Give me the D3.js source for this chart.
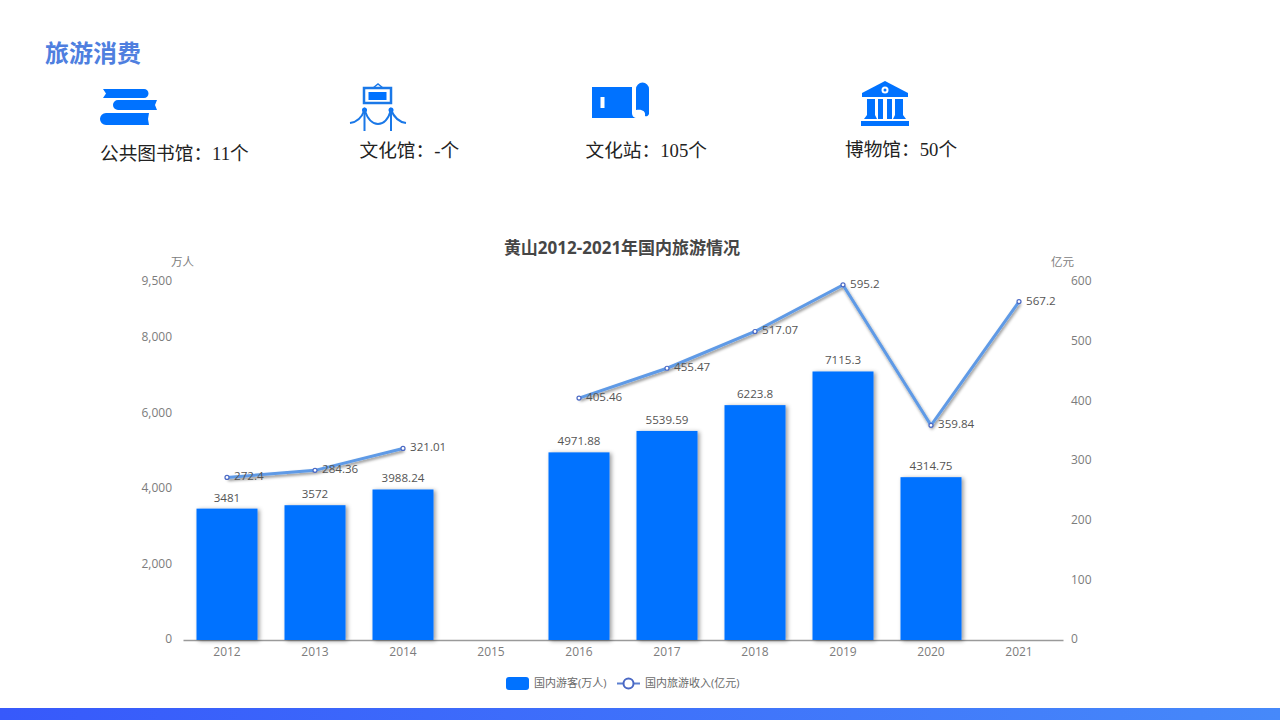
<!DOCTYPE html>
<html>
<head>
<meta charset="utf-8">
<script src="https://cdn.jsdelivr.net/npm/d3@7"></script>
<style>
	body { margin: 0; background: #fff; }
	svg { display: block; }
	text { font-family: "Open Sans", "Noto Sans CJK SC", sans-serif; }
	.head text { font-family: "Liberation Serif", "Noto Sans CJK SC", serif; }
	.axis text { fill: #7c7c7c; font-size: 12px; }
</style>
</head>
<body>
<svg id="chart" width="1280" height="720"></svg>
<script>
const years = ["2012", "2013", "2014", "2015", "2016", "2017", "2018", "2019", "2020", "2021"];
const visitors = [3481, 3572, 3988.24, null, 4971.88, 5539.59, 6223.8, 7115.3, 4314.75, null];
const revenue = [272.4, 284.36, 321.01, null, 405.46, 455.47, 517.07, 595.2, 359.84, 567.2];
const leftTicks = [0, 2000, 4000, 6000, 8000, 9500];
const rightTicks = [0, 100, 200, 300, 400, 500, 600];
const stats = [
	{ label: "公共图书馆：11个", x: 100, y: 160 },
	{ label: "文化馆：-个", x: 359.5, y: 157 },
	{ label: "文化站：105个", x: 585.5, y: 157 },
	{ label: "博物馆：50个", x: 845, y: 156 }
];

const blue = "#0072ff";
const lineBlue = "#5f9ae6";
const svg = d3.select("#chart");
const defs = svg.append("defs");

// bottom band
let grad = defs.append("linearGradient").attr("id", "band");
grad.append("stop").attr("offset", "0").attr("stop-color", "#3759fb");
grad.append("stop").attr("offset", "1").attr("stop-color", "#4689fa");
svg.append("rect").attr("x", 0).attr("y", 708).attr("width", 1280).attr("height", 12)
	.attr("fill", "url(#band)");

// soft shadows on the bars and the line
function addShadow(id, dx, dy, blur, opacity) {
	defs.append("filter").attr("id", id)
		.attr("x", "-10%").attr("y", "-10%").attr("width", "125%").attr("height", "125%")
		.append("feDropShadow")
		.attr("dx", dx).attr("dy", dy).attr("stdDeviation", blur)
		.attr("flood-color", "#000").attr("flood-opacity", opacity);
}
addShadow("barShadow", 2, 1, 2, 0.4);
addShadow("lineShadow", 1, 2, 1.5, 0.45);

// header
let head = svg.append("g").attr("class", "head");
head.append("text").attr("x", 45).attr("y", 62).text("旅游消费")
	.attr("font-size", 24).attr("font-weight", "bold").attr("fill", "#4f7fdf");
head.selectAll(".stat").data(stats).join("text")
	.attr("class", "stat")
	.attr("x", d => d.x).attr("y", d => d.y)
	.attr("font-size", 18.7).attr("fill", "#222")
	.text(d => d.label);

// icons
let icons = svg.append("g").attr("fill", blue);
// books
icons.append("path").attr("d", "M103,89H144a4.500,4.500 0 0 1 0,9H103L106,93.500Z");
icons.append("path").attr("d", "M118,100H157L155,105L157,110H118a5,5 0 0 1 0,-10Z");
icons.append("path").attr("d", "M106,113H149L148,119L149,125H106a6,6 0 0 1 0,-12Z");
// painting on rope stands
let frame = svg.append("g").attr("fill", "none").attr("stroke", "#1a78e8").attr("stroke-width", 2);
frame.append("rect").attr("x", 364).attr("y", 88).attr("width", 27).attr("height", 15).attr("stroke-width", 2.5);
frame.append("path").attr("d", "M373,88L378,84L383,88").attr("stroke-width", 1.5);
frame.append("path").attr("d", "M364.500,110V131M391,110V131");
frame.append("path").attr("d", "M350,123C358,122 362,117 364.500,110C368,120 372,124 378,124C384,124 388,120 391,110C394,117 398,122 406,123");
icons.append("rect").attr("x", 368.500).attr("y", 92).attr("width", 18).attr("height", 8);
icons.append("circle").attr("cx", 364.500).attr("cy", 110).attr("r", 2.5);
icons.append("circle").attr("cx", 391).attr("cy", 110).attr("r", 2.5);
// scroll
icons.append("path").attr("d", "M592,87H632V113C632,116 634,118 637,118H592Z");
icons.append("rect").attr("x", 600.500).attr("y", 97).attr("width", 4).attr("height", 11).attr("fill", "#fff");
icons.append("path").attr("d", "M636,89a6.500,6.500 0 0 1 13,0V114a3,3 0 0 1 -4,2C646,111 642,109 636,110Z");
// museum
icons.append("path").attr("d", "M885,81L908,93V97H862V93Z");
icons.append("circle").attr("cx", 885).attr("cy", 90).attr("r", 3.5).attr("fill", "#fff");
icons.append("circle").attr("cx", 885).attr("cy", 90).attr("r", 1.5);
icons.append("path").attr("d", "M867,99H875V115L877,119H864L867,115Z");
icons.append("rect").attr("x", 878).attr("y", 99).attr("width", 5).attr("height", 20);
icons.append("rect").attr("x", 887).attr("y", 99).attr("width", 5).attr("height", 20);
icons.append("path").attr("d", "M895,99H903V115L906,119H893L895,115Z");
icons.append("rect").attr("x", 861).attr("y", 121).attr("width", 48).attr("height", 5);

// scales
const x = d3.scaleBand().domain(years).range([183, 1063]);
const yLeft = d3.scaleLinear().domain([0, 9500]).range([640, 281.5]);
const yRight = d3.scaleLinear().domain([0, 600]).range([640, 282]);

// axes
function styleAxis(g) {
	g.attr("class", "axis");
	g.selectAll(".domain").remove();
	g.selectAll("line").remove();
}
function styleXLabels(g) {
	g.attr("class", "axis");
	g.selectAll("line").remove();
}
svg.append("g").attr("transform", "translate(172,-1)")
	.call(d3.axisLeft(yLeft).tickValues(leftTicks).tickSize(0).tickPadding(0).tickFormat(d3.format(",")))
	.call(styleAxis);
svg.append("g").attr("transform", "translate(1071,-1)")
	.call(d3.axisRight(yRight).tickValues(rightTicks).tickSize(0).tickPadding(0))
	.call(styleAxis);
svg.append("g").attr("transform", "translate(0,640)")
	.call(d3.axisBottom(x).tickSize(0).tickPadding(7))
	.call(g => g.selectAll(".domain").attr("stroke", "#9a9a9a").attr("stroke-width", 1.5))
	.call(styleXLabels);

// titles
svg.append("text").attr("x", 622).attr("y", 254).attr("text-anchor", "middle")
	.attr("font-size", 17).attr("font-weight", "bold").attr("fill", "#464646")
	.text("黄山2012-2021年国内旅游情况");
svg.append("text").attr("x", 171).attr("y", 266).attr("font-size", 11.5).attr("fill", "#7c7c7c").text("万人");
svg.append("text").attr("x", 1051).attr("y", 266).attr("font-size", 11.5).attr("fill", "#7c7c7c").text("亿元");

// bars
const barWidth = 61;
const barData = years.map((year, i) => ({ year, value: visitors[i] })).filter(d => d.value != null);
svg.append("g").attr("filter", "url(#barShadow)")
	.selectAll("rect").data(barData).join("rect")
	.attr("x", d => x(d.year) + x.bandwidth() / 2 - barWidth / 2)
	.attr("y", d => yLeft(d.value))
	.attr("width", barWidth)
	.attr("height", d => yLeft(0) - yLeft(d.value))
	.attr("fill", blue);
svg.append("g").selectAll("text").data(barData).join("text")
	.attr("x", d => x(d.year) + x.bandwidth() / 2)
	.attr("y", d => yLeft(d.value) - 7)
	.attr("text-anchor", "middle")
	.attr("font-size", 11.6).attr("fill", "#555")
	.text(d => d.value);

// line, broken at the missing year
const lineData = years.map((year, i) => ({ year, value: revenue[i] }));
const line = d3.line()
	.defined(d => d.value != null)
	.x(d => x(d.year) + x.bandwidth() / 2)
	.y(d => yRight(d.value));
svg.append("path").attr("d", line(lineData))
	.attr("fill", "none").attr("stroke", lineBlue).attr("stroke-width", 3)
	.attr("filter", "url(#lineShadow)");
const linePoints = lineData.filter(d => d.value != null);
svg.append("g").selectAll("circle").data(linePoints).join("circle")
	.attr("cx", d => x(d.year) + x.bandwidth() / 2)
	.attr("cy", d => yRight(d.value))
	.attr("r", 2)
	.attr("fill", "#fff").attr("stroke", "#4a68c4").attr("stroke-width", 1.2);
svg.append("g").selectAll("text").data(linePoints).join("text")
	.attr("x", d => x(d.year) + x.bandwidth() / 2 + 7)
	.attr("y", d => yRight(d.value) + 3)
	.attr("font-size", 11.6).attr("fill", "#555")
	.text(d => d.value);

// legend
svg.append("rect").attr("x", 506).attr("y", 677).attr("width", 23).attr("height", 13).attr("rx", 3)
	.attr("fill", blue);
svg.append("text").attr("x", 534).attr("y", 687).attr("font-size", 11).attr("fill", "#6a6a6a")
	.text("国内游客(万人)");
svg.append("line").attr("x1", 617).attr("x2", 640).attr("y1", 683.500).attr("y2", 683.500)
	.attr("stroke", "#5b7fd0").attr("stroke-width", 2);
svg.append("circle").attr("cx", 628.500).attr("cy", 683.500).attr("r", 5)
	.attr("fill", "#fff").attr("stroke", "#4a68c4").attr("stroke-width", 2);
svg.append("text").attr("x", 645).attr("y", 687).attr("font-size", 11).attr("fill", "#6a6a6a")
	.text("国内旅游收入(亿元)");
</script>
</body>
</html>
